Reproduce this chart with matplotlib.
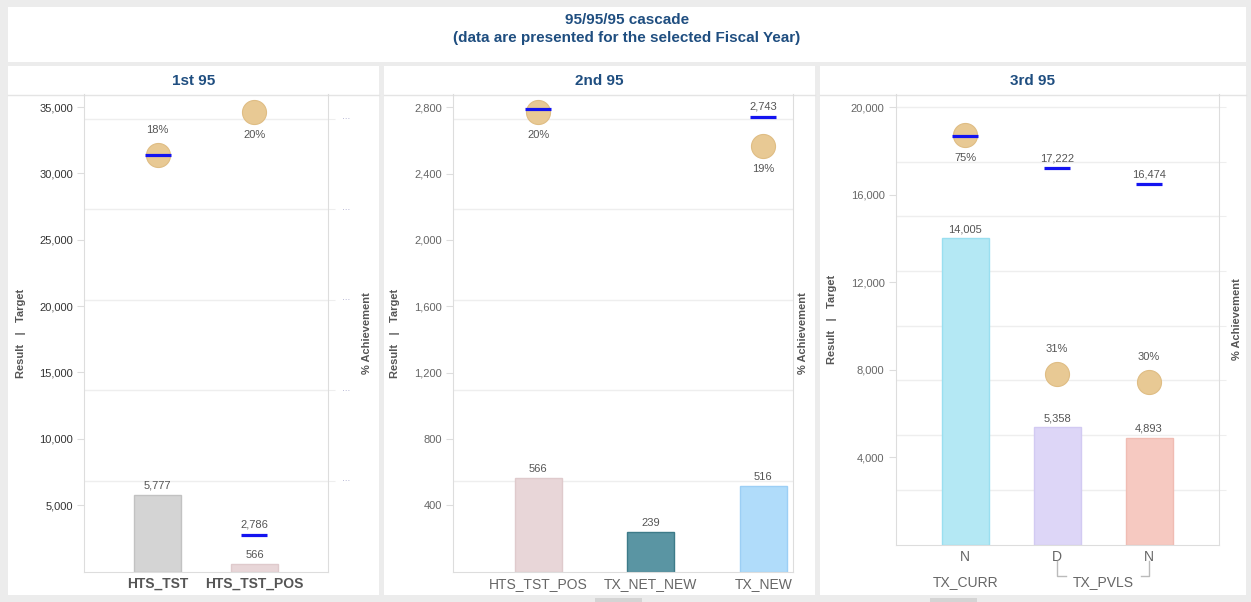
import numpy as np
import matplotlib
matplotlib.use('Agg')
import matplotlib.pyplot as plt
import matplotlib.transforms as mtransforms
from matplotlib.patches import Rectangle
from matplotlib.lines import Line2D

plt.rcParams['font.family'] = ['Liberation Sans', 'DejaVu Sans']

# ----
# Data
# ----
title_lines = ['95/95/95 cascade', '(data are presented for the selected Fiscal Year)']
panel_titles = ['1st 95', '2nd 95', '3rd 95']

cats1 = ['HTS_TST', 'HTS_TST_POS']
result1 = [5777, 566]
target1 = [31360, 2786]
pct1 = [18.4, 20.3]
yticks1 = [5000, 10000, 15000, 20000, 25000, 30000, 35000]

cats2 = ['HTS_TST_POS', 'TX_NET_NEW', 'TX_NEW']
result2 = [566, 239, 516]
target2 = [2786, np.nan, 2743]
pct2 = [20.3, np.nan, 18.8]
yticks2 = [400, 800, 1200, 1600, 2000, 2400, 2800]

cats3 = ['N', 'D', 'N']
groups3 = ['TX_CURR', 'TX_PVLS']
result3 = [14005, 5358, 4893]
target3 = [18700, 17222, 16474]
pct3 = [74.9, 31.1, 29.7]
yticks3 = [4000, 8000, 12000, 16000, 20000]

pct_ticks12 = [4, 8, 12, 16, 20]
pct_ticks3 = [10, 20, 30, 40, 50, 60, 70, 80]

# ------
# Styles
# ------
W, H = 1251, 602
c_title = '#1f4e80'
c_text = '#555555'
c_spine = '#dddddd'
c_grid = '#eeeeee'
c_circle = '#e8c994'
c_circle_edge = '#dfbd84'
c_target = '#1414f0'

fig = plt.figure(figsize=(W / 100, H / 100), dpi=100, facecolor='#ececec')


def fbox(x0, y0, x1, y1, color, z=-5):
  fig.add_artist(Rectangle((x0 / W, 1 - y1 / H), (x1 - x0) / W, (y1 - y0) / H,
                           transform=fig.transFigure, facecolor=color,
                           edgecolor='none', zorder=z))


def fline(x0, y0, x1, y1, color, lw=1, z=-4):
  fig.add_artist(Line2D([x0 / W, x1 / W], [1 - y0 / H, 1 - y1 / H],
                        transform=fig.transFigure, color=color, lw=lw, zorder=z))


def px_axes(left, top, right, bottom):
  return fig.add_axes([left / W, 1 - bottom / H, (right - left) / W, (bottom - top) / H])


# Title box and panels
# --------------------
fbox(8, 7, 1246, 62, 'white')
fig.text(627 / W, 1 - 20 / H, title_lines[0], ha='center', va='center',
         fontsize=11, fontweight='bold', color=c_title)
fig.text(627 / W, 1 - 37.7 / H, title_lines[1], ha='center', va='center',
         fontsize=11, fontweight='bold', color=c_title)

panel_x = [(8, 379), (384, 815), (820, 1246)]
for (x0, x1), t in zip(panel_x, panel_titles):
  fbox(x0, 66, x1, 595, 'white')
  fline(x0, 94.5, x1, 94.5, '#e4e4e4')
  fig.text((x0 + x1) / 2 / W, 1 - 81 / H, t, ha='center', va='center',
           fontsize=11, fontweight='bold', color=c_title)

# scroll indicators
fbox(595, 598, 642, 602, '#d4d4d4')
fbox(930, 598, 977, 602, '#d4d4d4')


# -----------
# Plot panels
# -----------
def plot_panel(box, cats, result, target, pct, bar_colors, bar_edges, width,
               xlim, ylim, pylim, yticks, pticks, pct_where, show_tlabel,
               tick_color, xlab_weight, xlab_color, dots, ptick_len):

  ax = px_axes(*box)
  axr = ax.twinx()
  ax.set_zorder(axr.get_zorder() + 1)
  ax.patch.set_visible(False)

  x = np.arange(len(cats))

  # bars + targets on the left axis
  ax.bar(x, result, width=width, color=bar_colors, edgecolor=bar_edges,
         linewidth=1, zorder=2)
  ax.plot(x, target, ls='none', marker='_', ms=19, mew=2.3, color=c_target, zorder=4)

  for xi, r in zip(x, result):
    ax.annotate('{:,.0f}'.format(r), (xi, r), xytext=(0, 4), textcoords='offset pixels',
                ha='center', va='bottom', fontsize=8, color=c_text)
  for xi, t, s in zip(x, target, show_tlabel):
    if s and not np.isnan(t):
      ax.annotate('{:,.0f}'.format(t), (xi, t), xytext=(0, 5), textcoords='offset pixels',
                  ha='center', va='bottom', fontsize=8, color=c_text)

  # achievement on the right axis
  axr.scatter(x, pct, s=300, color=c_circle, edgecolors=c_circle_edge, lw=0.8, zorder=3)
  for xi, p, w in zip(x, pct, pct_where):
    if np.isnan(p):
      continue
    dy = 25 if w == 'above' else -23
    axr.annotate('{:.0f}%'.format(p), (xi, p), xytext=(0, dy), textcoords='offset pixels',
                 ha='center', va='center', fontsize=8, color=c_text)

  ax.set_xlim(*xlim)
  ax.set_ylim(*ylim)
  axr.set_ylim(*pylim)

  ax.set_yticks(yticks)
  ax.set_yticklabels(['{:,.0f}'.format(v) for v in yticks])
  ax.tick_params(axis='y', length=5, color=c_spine, labelsize=8, labelcolor=tick_color, pad=3)
  ax.set_xticks(x)
  ax.set_xticklabels(cats, fontsize=10, fontweight=xlab_weight, color=xlab_color)
  ax.tick_params(axis='x', length=0, pad=4)

  axr.set_yticks(pticks)
  axr.set_yticklabels(['···' if dots else '' for _ in pticks])
  axr.tick_params(axis='y', length=ptick_len, color=c_grid, labelsize=6,
                  labelcolor='#9c9cc4', pad=5)
  axr.yaxis.grid(True, color=c_grid, lw=1)
  axr.set_axisbelow(True)

  for s in ['left', 'bottom', 'right']:
    ax.spines[s].set_color(c_spine)
  ax.spines['top'].set_visible(False)
  for s in axr.spines.values():
    s.set_visible(False)

  return ax, axr


def side_labels(xl, xr, top, bottom):
  yc = 1 - (top + bottom) / 2 / H
  fig.text(xl / W, yc, 'Result   |   Target', rotation=90, ha='center', va='center',
           fontsize=8, fontweight='bold', color=c_text)
  fig.text(xr / W, yc, '% Achievement', rotation=90, ha='center', va='center',
           fontsize=8, fontweight='bold', color=c_text)


# 1st 95
ax1, _ = plot_panel((84, 94.4, 328, 571.5), cats1, result1, target1, pct1,
                    ['#d4d4d4', '#e8d6d8'], ['#c2c2c2', '#dfcacc'], 0.485,
                    (-0.758, 1.758), (0, 35950), (0, 21.08), yticks1, pct_ticks12,
                    ['above', 'below'], [False, True],
                    '#333333', 'bold', '#555555', True, 5)
side_labels(20.7, 366.7, 94.4, 571.5)

# 2nd 95
ax2, _ = plot_panel((453, 94.4, 793, 571.5), cats2, result2, target2, pct2,
                    ['#e8d6d8', '#5a95a3', '#b0dcfa'], ['#dfcacc', '#3d7b89', '#9ccff5'], 0.418,
                    (-0.758, 2.264), (0, 2877), (0, 21.08), yticks2, pct_ticks12,
                    ['below', 'below', 'below'], [False, False, True],
                    '#666666', 'normal', '#666666', False, 0)
side_labels(395, 802.7, 94.4, 571.5)

# 3rd 95
ax3, _ = plot_panel((895.7, 94.4, 1219.3, 544.5), cats3, result3, target3, pct3,
                    ['#b4e8f4', '#ddd6f7', '#f6c9c1'], ['#9adff0', '#d2caf2', '#f0bcb3'], 0.512,
                    (-0.758, 2.765), (0, 20590), (0, 82.3), yticks3, pct_ticks3,
                    ['below', 'above', 'above'], [False, True, True],
                    '#666666', 'normal', '#666666', False, 5)
side_labels(831.7, 1236.7, 94.4, 544.5)

# group labels under the 3rd panel
trans = mtransforms.blended_transform_factory(ax3.transData, ax3.transAxes)
gpos = [0, 1.5]
for gx, g in zip(gpos, groups3):
  ax3.text(gx, -0.084, g, transform=trans, ha='center', va='center',
           fontsize=10, color='#666666', clip_on=False)
y_hi, y_lo = -0.037, -0.069
for bx, dx in [(1, 0.1), (2, -0.09)]:
  ax3.add_line(Line2D([bx, bx, bx + dx], [y_hi, y_lo, y_lo], transform=trans,
                      color='#bbbbbb', lw=1, clip_on=False))

fig.savefig('out.png', dpi=100, facecolor=fig.get_facecolor())
